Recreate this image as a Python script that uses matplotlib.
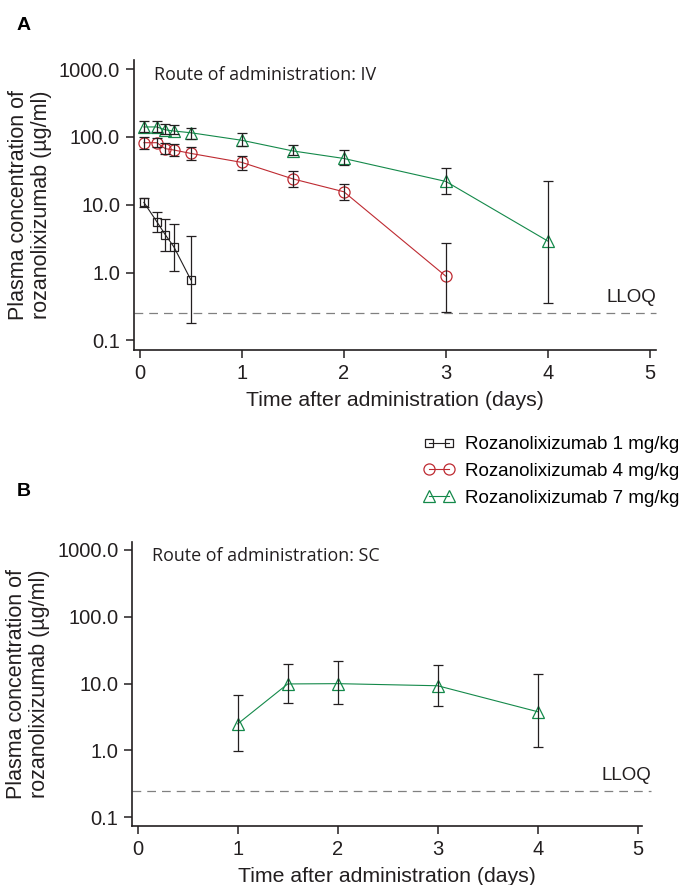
import matplotlib
matplotlib.use("Agg")
import matplotlib.pyplot as plt
import numpy as np

plt.rcParams['font.family'] = ['Liberation Sans', 'DejaVu Sans']

# IV, 1 mg/kg
t_iv1 = [0.04, 0.167, 0.25, 0.333, 0.5]
c_iv1 = [10.8, 5.6, 3.6, 2.4, 0.78]
lo_iv1 = [9.1, 4.0, 2.05, 1.06, 0.18]
hi_iv1 = [12.5, 7.9, 6.2, 5.2, 3.4]

# IV, 4 mg/kg
t_iv4 = [0.04, 0.167, 0.25, 0.333, 0.5, 1, 1.5, 2, 3]
c_iv4 = [82, 82, 67, 64, 57, 42, 24, 15.5, 0.88]
lo_iv4 = [67, 71, 55, 53, 45, 33, 18, 11.7, 0.26]
hi_iv4 = [101, 96, 81, 79, 71, 53, 31.6, 20.3, 2.7]

# IV, 7 mg/kg
t_iv7 = [0.04, 0.167, 0.25, 0.333, 0.5, 1, 1.5, 2, 3, 4]
c_iv7 = [140, 140, 127, 122, 115, 89, 62, 48, 22, 2.9]
lo_iv7 = [116, 116, 110, 110, 94, 74, 54, 39, 14.4, 0.35]
hi_iv7 = [172, 172, 154, 150, 135, 115, 77, 64, 35, 22]

# SC, 7 mg/kg
t_sc7 = [1, 1.5, 2, 3, 4]
c_sc7 = [2.5, 9.9, 10.0, 9.3, 3.8]
lo_sc7 = [0.97, 5.15, 4.9, 4.7, 1.12]
hi_sc7 = [6.8, 19.4, 21.5, 18.8, 14]

lloq = 0.25
yticks = [0.1, 1, 10, 100, 1000]
ytick_labels = ["0.1", "1.0", "10.0", "100.0", "1000.0"]
xticks = [0, 1, 2, 3, 4, 5]

labels = ["Rozanolixizumab 1 mg/kg", "Rozanolixizumab 4 mg/kg", "Rozanolixizumab 7 mg/kg"]
dark = '#231f20'
red = '#be2a31'
green = '#14894a'

W, H = 681, 885
fig = plt.figure(figsize=(W / 100, H / 100), dpi=100)

axA = fig.add_axes([134 / W, 1 - 350 / H, (655.8 - 134) / W, 290 / H])
axB = fig.add_axes([132.3 / W, 1 - 826 / H, (642 - 132.3) / W, (826 - 541.7) / H])


def series(ax, t, c, lo, hi, color, marker, ms, label):
    c = np.array(c)
    err = [c - np.array(lo), np.array(hi) - c]
    ax.errorbar(t, c, yerr=err, fmt='none', ecolor=dark, elinewidth=0.9,
                capsize=3.5, capthick=0.9, zorder=3)
    ln, = ax.plot(t, c, color=color, lw=0.8, marker=marker, ms=ms,
                  mfc='none', mec=color, mew=0.9, zorder=2, label=label)
    return ln


h1 = series(axA, t_iv1, c_iv1, lo_iv1, hi_iv1, dark, 's', 6.2, labels[0])
h2 = series(axA, t_iv4, c_iv4, lo_iv4, hi_iv4, red, 'o', 8, labels[1])
h3 = series(axA, t_iv7, c_iv7, lo_iv7, hi_iv7, green, '^', 8, labels[2])
series(axB, t_sc7, c_sc7, lo_sc7, hi_sc7, green, '^', 8, labels[2])

for ax, route, xlim, ylim, xext in [
        (axA, "Route of administration: IV", (-0.057, 5.057), (0.072, 1359), 1.0),
        (axB, "Route of administration: SC", (-0.054, 5.043), (0.0741, 1331), 1.018)]:
    ax.set_yscale('log')
    ax.set_xlim(*xlim)
    ax.set_ylim(*ylim)
    ax.set_yticks(yticks)
    ax.set_yticklabels(ytick_labels)
    ax.yaxis.set_minor_locator(matplotlib.ticker.NullLocator())
    ax.set_xticks(xticks)
    ax.tick_params(direction='out', length=6, width=1.1, colors=dark,
                   labelsize=14.5, pad=4)
    for s in ['top', 'right']:
        ax.spines[s].set_visible(False)
    for s in ['left', 'bottom']:
        ax.spines[s].set_linewidth(1.2)
        ax.spines[s].set_color(dark)
    ax.axhline(lloq, xmin=0, xmax=xext, color='#808080', lw=0.9,
               dashes=(7, 4.8), zorder=1, clip_on=False)
    ax.text(xext, lloq * 1.27, "LLOQ", transform=ax.get_yaxis_transform(),
            ha='right', va='bottom', fontsize=13.5, color=dark)
    ax.text(0.038, 0.95, route, transform=ax.transAxes, fontsize=12.9,
            family='Open Sans', ha='left', va='center', color=dark)
    ax.set_xlabel("Time after administration (days)", fontsize=15.3,
                  color=dark, labelpad=6)
    ax.set_ylabel("Plasma concentration of\nrozanolixizumab (\u00b5g/ml)",
                  fontsize=15.5, color=dark, linespacing=1.12)
    ax.yaxis.set_label_coords(-82 / (ax.get_position().width * W), 0.5)

fig.text(17 / W, 1 - 26 / H, "A", fontsize=14, fontweight='bold', va='center', ha='left')
fig.text(17 / W, 1 - 492 / H, "B", fontsize=14, fontweight='bold', va='center', ha='left')

fig.legend(handles=[h1, h2, h3], loc='upper left',
           bbox_to_anchor=(423 / W, 1 - 436 / H), frameon=False,
           fontsize=13.5, numpoints=2, handlelength=1.67, handletextpad=0.55,
           labelspacing=0.51, borderpad=0, borderaxespad=0)

fig.savefig("out.png", dpi=100)
